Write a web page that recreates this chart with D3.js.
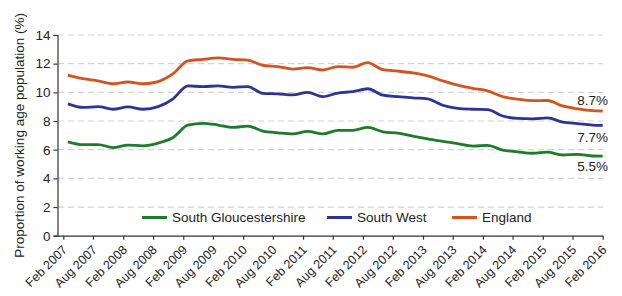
<!DOCTYPE html>
<html>
<head>
<meta charset="utf-8">
<script src="https://cdn.jsdelivr.net/npm/d3@7"></script>
<style>
  body { margin: 0; background: #fff; }
  svg text { font-family: "Liberation Sans", Arial, sans-serif; fill: #222; }
</style>
</head>
<body>
<div id="chart"></div>
<script>
// quarterly readings
const periods = [
  "Mar 2007","Jun 2007","Sep 2007","Dec 2007",
  "Mar 2008","Jun 2008","Sep 2008","Dec 2008",
  "Mar 2009","Jun 2009","Sep 2009","Dec 2009",
  "Mar 2010","Jun 2010","Sep 2010","Dec 2010",
  "Mar 2011","Jun 2011","Sep 2011","Dec 2011",
  "Mar 2012","Jun 2012","Sep 2012","Dec 2012",
  "Mar 2013","Jun 2013","Sep 2013","Dec 2013",
  "Mar 2014","Jun 2014","Sep 2014","Dec 2014",
  "Mar 2015","Jun 2015","Sep 2015","Dec 2015",
  "Feb 2016"
];

const southGlos = [
  6.55, 6.35, 6.36, 6.15, 6.32, 6.27, 6.46, 6.85,
  7.72, 7.84, 7.72, 7.55, 7.65, 7.30, 7.18, 7.10,
  7.28, 7.10, 7.35, 7.35, 7.55, 7.25, 7.15, 6.95,
  6.75, 6.58, 6.42, 6.25, 6.30, 5.97, 5.85, 5.75,
  5.83, 5.63, 5.67, 5.56, 5.55
];
const southWest = [
  9.20, 8.95, 9.00, 8.82, 8.98, 8.82, 9.00, 9.55,
  10.45, 10.40, 10.45, 10.35, 10.40, 9.93, 9.90, 9.82,
  10.00, 9.70, 9.95, 10.05, 10.25, 9.80, 9.70, 9.62,
  9.55, 9.10, 8.88, 8.82, 8.80, 8.35, 8.18, 8.15,
  8.22, 7.92, 7.82, 7.72, 7.70
];
const england = [
  11.20, 10.95, 10.80, 10.60, 10.72, 10.60, 10.75, 11.30,
  12.20, 12.30, 12.40, 12.30, 12.25, 11.88, 11.80, 11.62,
  11.72, 11.56, 11.80, 11.75, 12.07, 11.58, 11.48, 11.35,
  11.15, 10.80, 10.50, 10.28, 10.10, 9.70, 9.52, 9.42,
  9.43, 9.05, 8.85, 8.72, 8.70
];

const seriesNames = ["South Gloucestershire", "South West", "England"];
const seriesColors = ["#1f7a2c", "#2c3592", "#d35420"];
const endLabels = ["5.5%", "7.7%", "8.7%"];

const tickLabels = [
  "Feb 2007","Aug 2007","Feb 2008","Aug 2008","Feb 2009","Aug 2009",
  "Feb 2010","Aug 2010","Feb 2011","Aug 2011","Feb 2012","Aug 2012",
  "Feb 2013","Aug 2013","Feb 2014","Aug 2014","Feb 2015","Aug 2015","Feb 2016"
];
const yTicks = [0, 2, 4, 6, 8, 10, 12, 14];

const width = 622, height = 296;
const parse = d3.timeParse("%b %Y");
const fmt = d3.timeFormat("%b %Y");

const svg = d3.select("#chart").append("svg")
  .attr("width", width)
  .attr("height", height);

const x = d3.scaleTime()
  .domain([parse("Feb 2007"), parse("Feb 2016")])
  .range([63.3, 602.7]);

const y = d3.scaleLinear()
  .domain([0, 14])
  .range([235.7, 35]);

// dashed gridlines
svg.append("g")
  .selectAll("line")
  .data(yTicks.filter(d => d > 0))
  .join("line")
  .attr("x1", 58).attr("x2", 603)
  .attr("y1", d => y(d)).attr("y2", d => y(d))
  .attr("stroke", "#d3d3d3")
  .attr("stroke-width", 1.2)
  .attr("stroke-dasharray", "6,4");

// y axis
const yAxis = svg.append("g")
  .attr("transform", "translate(57.5,0)")
  .call(d3.axisLeft(y).tickValues(yTicks).tickSize(4).tickPadding(3).tickFormat(d3.format("d")));
yAxis.selectAll("text").style("font-size", "13.5px");

// x axis
const xAxis = svg.append("g")
  .attr("transform", `translate(0,${y(0)})`)
  .call(d3.axisBottom(x)
    .tickValues(tickLabels.map(parse))
    .tickSize(4)
    .tickFormat(fmt));
xAxis.select(".domain").attr("d", `M57.5,0.5H${x(parse("Feb 2016")) + 0.5}`);
xAxis.selectAll("text")
  .style("font-size", "12.5px")
  .attr("text-anchor", "end")
  .attr("dy", "0.35em")
  .attr("x", -7.5)
  .attr("y", 9)
  .attr("transform", "rotate(-45)");

[yAxis, xAxis].forEach(a => {
  a.selectAll(".domain, .tick line").attr("stroke", "#333").attr("stroke-width", 1.2);
});

// y axis title
svg.append("text")
  .attr("transform", `translate(24,${(y(0) + y(14)) / 2}) rotate(-90)`)
  .attr("text-anchor", "middle")
  .style("font-size", "13.5px")
  .text("Proportion of working age population (%)");

// lines
const line = d3.line()
  .x(d => x(d.date))
  .y(d => y(d.value))
  .curve(d3.curveMonotoneX);

const allSeries = [southGlos, southWest, england].map((vals, i) => ({
  name: seriesNames[i],
  color: seriesColors[i],
  label: endLabels[i],
  points: vals.map((v, j) => ({ date: parse(periods[j]), value: v }))
}));

svg.append("g")
  .selectAll("path")
  .data(allSeries)
  .join("path")
  .attr("fill", "none")
  .attr("stroke", d => d.color)
  .attr("stroke-width", 2.8)
  .attr("stroke-linejoin", "round")
  .attr("d", d => line(d.points));

// end labels: England above its line, the other two below
const labelOffset = [15, 17, -6];
svg.append("g")
  .selectAll("text")
  .data(allSeries)
  .join("text")
  .attr("x", 608)
  .attr("y", (d, i) => y(d.points[d.points.length - 1].value) + labelOffset[i])
  .attr("text-anchor", "end")
  .style("font-size", "13.5px")
  .text(d => d.label);

// legend
const legendX = [142, 327, 452];
const legend = svg.append("g")
  .selectAll("g")
  .data(allSeries)
  .join("g")
  .attr("transform", (d, i) => `translate(${legendX[i]},217.5)`);
legend.append("line")
  .attr("x1", 0).attr("x2", 25)
  .attr("stroke", d => d.color)
  .attr("stroke-width", 3);
legend.append("text")
  .attr("x", 30)
  .attr("dy", "0.35em")
  .style("font-size", "13.5px")
  .text(d => d.name);
</script>
</body>
</html>
